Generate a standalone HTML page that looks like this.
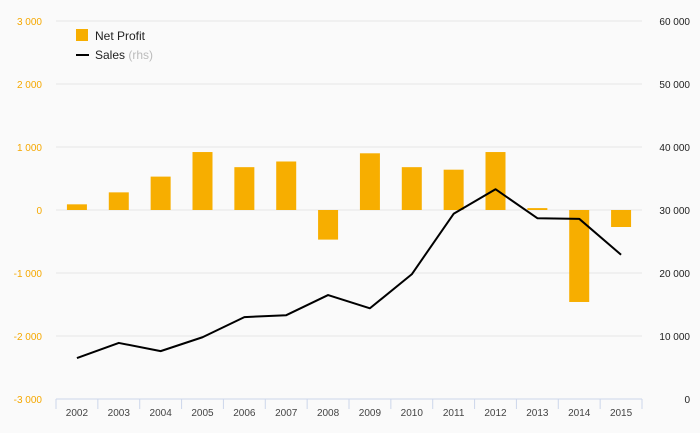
<!DOCTYPE html>
<html><head><meta charset="utf-8"><style>
body{margin:0;background:#fafafa;}
svg{display:block;font-family:"Liberation Sans",sans-serif;}
</style></head><body>
<svg id="chart" width="700" height="433">
<rect width="700" height="433" fill="#fafafa"/>
<g id="grid"></g><g id="bars"></g><g id="line"></g><g id="axes"></g>
<g>
<rect x="76" y="29" width="12" height="12" fill="#f7ae00"/>
<text x="95" y="40" font-size="12" fill="#222">Net Profit</text>
<line x1="76" y1="55" x2="89" y2="55" stroke="#000" stroke-width="2"/>
<text x="95" y="59" font-size="12" fill="#222">Sales <tspan fill="#bbb">(rhs)</tspan></text>
</g>
</svg>
<script>
const years=["2002","2003","2004","2005","2006","2007","2008","2009","2010","2011","2012","2013","2014","2015"];
const profit=[90,280,530,920,680,770,-470,900,680,640,920,30,-1460,-270];
const sales=[6500,8900,7600,9800,13000,13300,16500,14400,19800,29400,33300,28700,28600,22900];
const leftTicks=[-3000,-2000,-1000,0,1000,2000,3000];
const rightTicks=[0,10000,20000,30000,40000,50000,60000];
const NS="http://www.w3.org/2000/svg";
const x0=56,x1=642,yTop=21,yBot=399;
const bw=(x1-x0)/years.length;
const xc=i=>x0+bw*(i+0.5);
const yL=v=>yBot-(v+3000)/6000*(yBot-yTop);
const yR=v=>yBot-v/60000*(yBot-yTop);
const fmt=v=>{const s=Math.abs(v).toString().replace(/\B(?=(\d{3})+(?!\d))/g," ");return (v<0?"-":"")+s;};
function mk(t,a,p){const e=document.createElementNS(NS,t);for(const k in a)e.setAttribute(k,a[k]);p.appendChild(e);return e;}
const grid=document.getElementById('grid'),axes=document.getElementById('axes');
leftTicks.forEach((v,i)=>{
  const y=yL(v);
  if(i>0){const l=mk('line',{x1:x0,x2:x1,y1:y,y2:y,stroke:'#e6e6e6'},grid);
  
  }
  const t=mk('text',{x:42,y:y+4,'text-anchor':'end','font-size':10,fill:'#f5a800'},axes);t.textContent=fmt(v);
  
  
});
rightTicks.forEach(v=>{
  const t=mk('text',{x:690,y:yR(v)+4,'text-anchor':'end','font-size':10,fill:'#222'},axes);t.textContent=fmt(v);
  
  
});
const ax=mk('line',{x1:x0,x2:x1,y1:yBot,y2:yBot,stroke:'#ccd6eb'},axes);


const bars=document.getElementById('bars');
years.forEach((yr,i)=>{
  const tk=mk('line',{x1:x0+bw*i,x2:x0+bw*i,y1:yBot,y2:yBot+10,stroke:'#ccd6eb'},axes);
  
  
  const t=mk('text',{x:xc(i),y:yBot+17,'text-anchor':'middle','font-size':10,fill:'#444'},axes);t.textContent=yr;
  
  
  const v=profit[i],y0=yL(0),y=yL(v);
  const r=mk('rect',{x:xc(i)-10,y:Math.min(y,y0),width:20,height:Math.max(1,Math.abs(y-y0)),fill:'#f7ae00'},bars);
  
  
});
const tkE=mk('line',{x1:x1,x2:x1,y1:yBot,y2:yBot+10,stroke:'#ccd6eb'},axes);


const p=mk('polyline',{points:sales.map((v,i)=>xc(i)+','+yR(v)).join(' '),fill:'none',stroke:'#000','stroke-width':2,'stroke-linejoin':'round'},document.getElementById('line'));


</script>
</body></html>
